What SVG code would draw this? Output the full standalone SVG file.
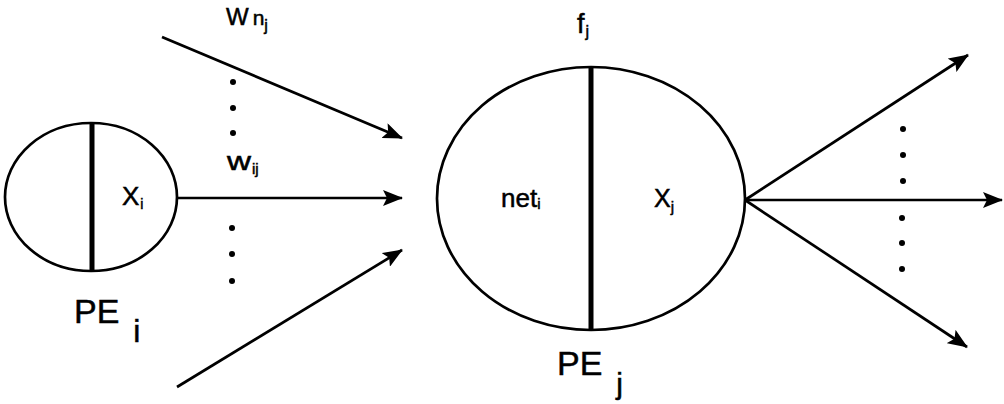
<svg xmlns="http://www.w3.org/2000/svg" width="1004" height="404" viewBox="0 0 1004 404">
<style>
.ln{stroke:#000;stroke-width:2.7;fill:none}
.el{stroke:#000;stroke-width:2.7;fill:#fff}
.dv{stroke:#000;stroke-width:5}
.t{font-family:"Liberation Sans",Arial,sans-serif;fill:#000;stroke:#000;stroke-width:0.5}
.dot{fill:#000}
</style>
<defs>
<marker id="ah" viewBox="0 0 20 16" refX="19" refY="8" markerWidth="20" markerHeight="16" markerUnits="userSpaceOnUse" orient="auto">
<path d="M0,0 L20,8 L0,16 L4,8 Z" fill="#000"/>
</marker>
</defs>
<rect width="1004" height="404" fill="#fff"/>
<g id="connectors">
<line class="ln" x1="162" y1="37" x2="402" y2="138" marker-end="url(#ah)"/>
<line class="ln" x1="177" y1="198" x2="402" y2="198" marker-end="url(#ah)"/>
<line class="ln" x1="177" y1="387" x2="402" y2="250" marker-end="url(#ah)"/>
<line class="ln" x1="745" y1="200" x2="968" y2="55" marker-end="url(#ah)"/>
<line class="ln" x1="745" y1="200" x2="1002" y2="200" marker-end="url(#ah)"/>
<line class="ln" x1="745" y1="200" x2="967" y2="347" marker-end="url(#ah)"/>
</g>
<g id="labels">
<text class="t" x="226" y="25" font-size="24">W<tspan dx="4" font-size="21">n</tspan><tspan font-size="16" dy="6">j</tspan></text>
<text class="t" x="227" y="170" font-size="25" textLength="24" lengthAdjust="spacingAndGlyphs">w</text>
<text class="t" x="252" y="174" font-size="15">ij</text>
<circle class="dot" cx="233" cy="82" r="3"/>
<circle class="dot" cx="233" cy="108" r="3"/>
<circle class="dot" cx="233" cy="133" r="3"/>
<circle class="dot" cx="232" cy="228" r="3"/>
<circle class="dot" cx="232" cy="254" r="3"/>
<circle class="dot" cx="232" cy="281" r="3"/>
<circle class="dot" cx="903" cy="129" r="3"/>
<circle class="dot" cx="903" cy="155" r="3"/>
<circle class="dot" cx="903" cy="181" r="3"/>
<circle class="dot" cx="902" cy="218" r="3"/>
<circle class="dot" cx="902" cy="243" r="3"/>
<circle class="dot" cx="902" cy="269" r="3"/>
</g>
<g id="PEi">
<ellipse class="el" cx="91" cy="197" rx="86" ry="74"/>
<line class="dv" x1="92" y1="123" x2="92" y2="271"/>
<text class="t" x="122" y="205" font-size="26">X<tspan font-size="14" dy="4" dx="1">i</tspan></text>
<text class="t" x="74" y="323" font-size="34">PE<tspan font-size="32" dx="14" dy="19">i</tspan></text>
</g>
<g id="PEj">
<ellipse class="el" cx="591" cy="198.5" rx="154" ry="131.5"/>
<line class="dv" x1="591" y1="67" x2="591" y2="330"/>
<text class="t" x="577" y="33" font-size="27">f<tspan font-size="16" dy="4" dx="1">j</tspan></text>
<text class="t" x="501" y="207" font-size="26">net<tspan font-size="15" dy="2">i</tspan></text>
<text class="t" x="654" y="207" font-size="25">X<tspan font-size="15" dy="5">j</tspan></text>
<text class="t" x="557" y="375" font-size="34">PE<tspan font-size="30" dx="14" dy="19">j</tspan></text>
</g>
</svg>
